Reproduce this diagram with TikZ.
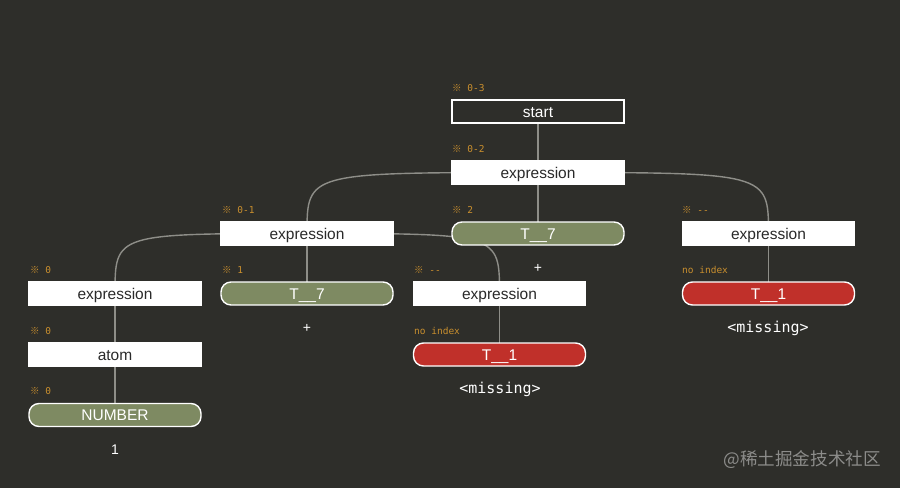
\documentclass[tikz,border=0pt]{standalone}
\usepackage{fontspec}
\setmainfont{Liberation Sans}
\newfontfamily\monof{DejaVu Sans Mono}
\newfontfamily\cjkf{Noto Sans CJK SC}
\usetikzlibrary{backgrounds}
\definecolor{bgc}{HTML}{2E2E2A}
\definecolor{leafgreen}{HTML}{7E8A62}
\definecolor{leafred}{HTML}{C0302A}
\definecolor{idxc}{HTML}{C98F2E}
\definecolor{linkc}{HTML}{8E8E88}
\definecolor{darktext}{HTML}{2A2A2A}
\tikzset{
  base/.style={minimum width=172pt, minimum height=23pt, inner sep=0pt, line width=1.4pt,
     font=\fontsize{15.5}{17}\selectfont, text height=13pt, text depth=2pt},
  rulebox/.style={base, draw=white, fill=white, text=darktext},
  rootbox/.style={base, draw=white, fill=bgc, text=white, line width=1.8pt},
  greenleaf/.style={base, draw=white, fill=leafgreen, text=white, rounded corners=10pt},
  redleaf/.style={base, draw=white, fill=leafred, text=white, rounded corners=10pt},
  idx/.style={anchor=west, inner sep=0pt, text=idxc, font=\monof\fontsize{9.5}{11}\selectfont},
  tokentext/.style={text=white, inner sep=0pt, font=\fontsize{14}{16}\selectfont},
  misstext/.style={text=white, inner sep=0pt, font=\monof\fontsize{15}{17}\selectfont},
  link/.style={draw=linkc, line width=1.4pt},
}
\newcommand{\rmark}{{\cjkf ※}}
\begin{document}
\begin{tikzpicture}[x=1pt,y=-1pt]
\begin{scope}[on background layer]
\path[fill=bgc] (0,0) rectangle (900,488);
\end{scope}
\useasboundingbox (0,0) rectangle (900,488);

% nodes
\node[rootbox] (start) at (538,111.5) {start};
\node[rulebox] (e02) at (538,172.5) {expression};
\node[rulebox] (e01) at (307,233.5) {expression};
\node[greenleaf] (t7a) at (538,233.5) {T\_\_7};
\node[rulebox] (eR) at (768.5,233.5) {expression};
\node[rulebox] (e0) at (115,293.5) {expression};
\node[greenleaf] (t7b) at (307,293.5) {T\_\_7};
\node[rulebox] (eM) at (499.5,293.5) {expression};
\node[redleaf] (t1R) at (768.5,293.5) {T\_\_1};
\node[rulebox] (atom) at (115,354.5) {atom};
\node[redleaf] (t1M) at (499.5,354.5) {T\_\_1};
\node[greenleaf] (num) at (115,415) {NUMBER};

% index labels
\node[idx] (l1) at (452,88) {\rmark\ 0-3};
\node[idx] (l2) at (452,149) {\rmark\ 0-2};
\node[idx] (l3) at (222,210) {\rmark\ 0-1};
\node[idx] (l4) at (452,210) {\rmark\ 2};
\node[idx] (l5) at (682,210) {\rmark\ --};
\node[idx] (l6) at (30,270) {\rmark\ 0};
\node[idx] (l7) at (222,270) {\rmark\ 1};
\node[idx] (l8) at (414,270) {\rmark\ --};
\node[idx] (l9) at (682,270) {no index};
\node[idx] (l10) at (30,331) {\rmark\ 0};
\node[idx] (l11) at (414,331) {no index};
\node[idx] (l12) at (30,391) {\rmark\ 0};

% token texts
\node[tokentext] (p1) at (538,268) {+};
\node[tokentext] (p2) at (307,328) {+};
\node[tokentext] (one) at (115,450) {1};
\node[misstext] (m1) at (500,389) {<missing>};
\node[misstext] (m2) at (768,328) {<missing>};

\node[anchor=east, inner sep=0pt, text=white!45!bgc, font=\cjkf\fontsize{17.6}{19}\selectfont] (wm) at (881,460) {@稀土掘金技术社区};

% links
\begin{scope}[on background layer]
\path[link] (start.center) -- (e02.center);
\path[link] (e02.center) -- (t7a.center);
\path[link] (e02.center) .. controls (e01.center |- e02.center) .. (e01.center);
\path[link] (e02.center) .. controls (eR.center |- e02.center) .. (eR.center);
\path[link] (e01.center) .. controls (e0.center |- e01.center) .. (e0.center);
\path[link] (e01.center) -- (t7b.center);
\path[link] (e01.center) .. controls (eM.center |- e01.center) .. (eM.center);
\path[link] (eR.center) -- (t1R.center);
\path[link] (eM.center) -- (t1M.center);
\path[link] (e0.center) -- (atom.center);
\path[link] (atom.center) -- (num.center);
\end{scope}
\end{tikzpicture}
\end{document}
